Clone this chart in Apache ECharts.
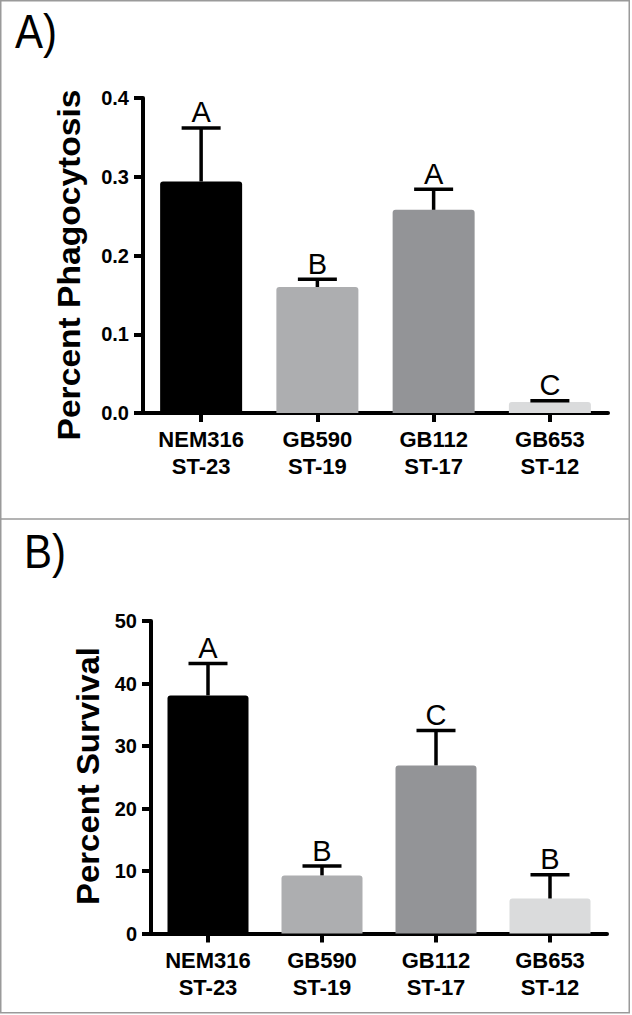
<!DOCTYPE html>
<html>
<head>
<meta charset="utf-8">
<script src="https://cdn.jsdelivr.net/npm/echarts@6/dist/echarts.min.js"></script>
<style>
html,body{margin:0;padding:0;background:#fff;}
#chart{width:632px;height:1015px;}
</style>
</head>
<body>
<div id="chart"></div>
<script>
// ---- data ----
const categories = ['NEM316\nST-23', 'GB590\nST-19', 'GB112\nST-17', 'GB653\nST-12'];
const phagoMeans = [0.294, 0.160, 0.258, 0.014];
const phagoErrors = [0.068, 0.010, 0.026, 0.0015];
const phagoLetters = ['A', 'B', 'A', 'C'];
const phagoTicks = [0, 0.1, 0.2, 0.3, 0.4];
const survMeans = [38.1, 9.3, 26.9, 5.6];
const survErrors = [5.1, 1.5, 5.6, 3.8];
const survLetters = ['A', 'B', 'C', 'B'];
const survTicks = [0, 10, 20, 30, 40, 50];
const barColors = ['#000000', '#adaeb0', '#939497', '#dadbdc'];

const FONT = "'Liberation Sans', Arial, Helvetica, sans-serif";

const chart = echarts.init(document.getElementById('chart'), null, {renderer: 'svg'});

function errorRender(letters) {
  return function (params, api) {
    const base = api.coord([api.value(0), api.value(1)]);
    const top = api.coord([api.value(0), api.value(2)]);
    const half = 19.5;
    return {
      type: 'group',
      children: [
        {type: 'line', shape: {x1: base[0], y1: base[1], x2: base[0], y2: top[1]},
         style: {stroke: '#000', lineWidth: 3.5}},
        {type: 'line', shape: {x1: base[0] - half, y1: top[1], x2: base[0] + half, y2: top[1]},
         style: {stroke: '#000', lineWidth: 3.5}},
        {type: 'text', x: base[0], y: top[1] - 15.5,
         style: {text: letters[params.dataIndex], fill: '#000', fontSize: 29,
                 fontFamily: FONT, fontWeight: 'normal', align: 'center', verticalAlign: 'middle'}}
      ]
    };
  };
}

function xAxisCfg(gridIndex) {
  return {
    type: 'category', gridIndex: gridIndex, data: categories,
    axisLine: {show: true, lineStyle: {color: '#000', width: 4}},
    axisTick: {show: true, alignWithLabel: true, length: 9, lineStyle: {color: '#000', width: 4}},
    axisLabel: {color: '#000', fontSize: 22, fontWeight: 'bold', fontFamily: FONT,
                lineHeight: 27, margin: 13, interval: 0},
    splitLine: {show: false}
  };
}
function yAxisCfg(gridIndex, ticks, fmt) {
  return {
    type: 'value', gridIndex: gridIndex,
    min: ticks[0], max: ticks[ticks.length - 1], interval: ticks[1] - ticks[0],
    axisLine: {show: true, lineStyle: {color: '#000', width: 4}},
    axisTick: {show: true, length: 9, lineStyle: {color: '#000', width: 4}},
    axisLabel: {color: '#000', fontSize: 20, fontWeight: 'bold', fontFamily: FONT, margin: 14,
                formatter: fmt},
    splitLine: {show: false}
  };
}

function barData(vals) {
  return vals.map((v, i) => ({value: v, itemStyle: {color: barColors[i]}}));
}
function errData(means, errs) {
  return means.map((m, i) => [i, m, m + errs[i]]);
}

const option = {
  animation: false,
  backgroundColor: '#fff',
  grid: [
    {left: 143, top: 98, width: 465, height: 315},
    {left: 151, top: 621, width: 456, height: 312.5}
  ],
  xAxis: [xAxisCfg(0), xAxisCfg(1)],
  yAxis: [
    yAxisCfg(0, phagoTicks, v => v.toFixed(1)),
    yAxisCfg(1, survTicks, v => String(v))
  ],
  series: [
    {type: 'bar', xAxisIndex: 0, yAxisIndex: 0, barWidth: 82, data: barData(phagoMeans),
     itemStyle: {borderRadius: [3, 3, 0, 0]}, z: 2},
    {type: 'custom', xAxisIndex: 0, yAxisIndex: 0, renderItem: errorRender(phagoLetters),
     data: errData(phagoMeans, phagoErrors), z: 5, clip: false},
    {type: 'bar', xAxisIndex: 1, yAxisIndex: 1, barWidth: 81, data: barData(survMeans),
     itemStyle: {borderRadius: [3, 3, 0, 0]}, z: 2},
    {type: 'custom', xAxisIndex: 1, yAxisIndex: 1, renderItem: errorRender(survLetters),
     data: errData(survMeans, survErrors), z: 5, clip: false}
  ],
  graphic: [
    {type: 'rect', shape: {x: 0.75, y: 0.75, width: 628.5, height: 1012}, silent: true,
     style: {fill: 'none', stroke: '#9a9a9a', lineWidth: 1.5}},
    {type: 'line', shape: {x1: 0, y1: 519, x2: 630, y2: 519}, silent: true,
     style: {stroke: '#9a9a9a', lineWidth: 1.5}},
    {type: 'text', x: 15, y: 31, scaleY: 1.16, silent: true,
     style: {text: 'A)', fontSize: 42, fontFamily: FONT, fill: '#000', align: 'left', verticalAlign: 'middle'}},
    {type: 'text', x: 24, y: 551, scaleY: 1.16, silent: true,
     style: {text: 'B)', fontSize: 42, fontFamily: FONT, fill: '#000', align: 'left', verticalAlign: 'middle'}},
    {type: 'text', x: 69, y: 265, rotation: Math.PI / 2, scaleX: 1.084, silent: true,
     style: {text: 'Percent Phagocytosis', fontSize: 31, fontWeight: 'bold', fontFamily: FONT, fill: '#000',
             align: 'center', verticalAlign: 'middle'}},
    {type: 'text', x: 88, y: 776, rotation: Math.PI / 2, scaleX: 1.062, silent: true,
     style: {text: 'Percent Survival', fontSize: 31, fontWeight: 'bold', fontFamily: FONT, fill: '#000',
             align: 'center', verticalAlign: 'middle'}}
  ]
};
chart.setOption(option);
</script>
</body>
</html>
